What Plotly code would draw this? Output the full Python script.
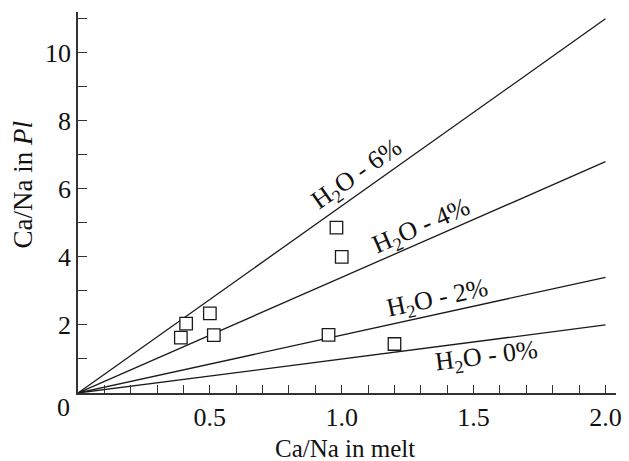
import math
import plotly.graph_objects as go

# Data
melt_x = [0.39, 0.41, 0.50, 0.515, 0.98, 1.00, 0.95, 1.20]
pl_y = [1.63, 2.04, 2.34, 1.70, 4.86, 4.00, 1.71, 1.44]

water_labels = ["H<sub>2</sub>O - 0%", "H<sub>2</sub>O - 2%", "H<sub>2</sub>O - 4%", "H<sub>2</sub>O - 6%"]
line_x = [0.0, 2.0]
line_end_y = [2.0, 3.4, 6.8, 11.0]

x_tickvals = [round(i * 0.1, 1) for i in range(1, 21)]
x_ticktext = ["0.5" if v == 0.5 else "1.0" if v == 1.0 else "1.5" if v == 1.5 else "2.0" if v == 2.0 else "" for v in x_tickvals]
y_tickvals = list(range(1, 12))
y_ticktext = [str(v) if v % 2 == 0 else "" for v in y_tickvals]

FONT = "Liberation Serif, Times New Roman, serif"

fig = go.Figure()
for end in line_end_y:
    fig.add_trace(go.Scatter(x=line_x, y=[0.0, end], mode="lines",
                             line=dict(color="#1a1a1a", width=1.3),
                             showlegend=False, hoverinfo="skip"))
fig.add_trace(go.Scatter(x=melt_x, y=pl_y, mode="markers",
                         marker=dict(symbol="square", size=12.5, color="white",
                                     line=dict(color="#1a1a1a", width=1.3)),
                         showlegend=False))

# label placement (data coords) and rotation following the lines
label_pos = [(1.058, 6.40), (1.302, 4.88), (1.365, 2.76), (1.549, 1.05)]
label_pos = label_pos[::-1]
px_per_x = 266.5
px_per_y = 34.0
for txt, (lx, ly), end in zip(water_labels, label_pos, line_end_y):
    ang = math.degrees(math.atan((end / 2.0) * px_per_y / px_per_x))
    fig.add_annotation(x=lx, y=ly, text=txt, showarrow=False, textangle=-ang,
                       font=dict(family=FONT, size=26, color="#111"),
                       xanchor="center", yanchor="middle")

# shared zero label
fig.add_annotation(xref="paper", yref="paper", x=(63 - 78) / 543.7, y=(393 - 407) / 381,
                   text="0", showarrow=False, font=dict(family=FONT, size=26, color="#111"),
                   xanchor="center", yanchor="middle")
# axis titles
fig.add_annotation(xref="paper", yref="paper", x=(22 - 78) / 543.7, y=(393 - 185) / 381,
                   text="Ca/Na in <i>Pl</i>", textangle=-90, showarrow=False,
                   font=dict(family=FONT, size=27, color="#111"),
                   xanchor="center", yanchor="middle")
fig.add_annotation(xref="paper", yref="paper", x=(348 - 78) / 543.7, y=(393 - 448) / 381,
                   text="Ca/Na in melt", showarrow=False,
                   font=dict(family=FONT, size=25, color="#111"),
                   xanchor="center", yanchor="middle")

fig.update_layout(
    width=629, height=461,
    margin=dict(l=78, r=7, t=12, b=68),
    paper_bgcolor="white", plot_bgcolor="white",
    font=dict(family=FONT, size=26, color="#111"),
)
fig.update_xaxes(range=[0, 2.04], tickvals=x_tickvals, ticktext=x_ticktext,
                 ticks="inside", ticklen=8, tickwidth=1.3, tickcolor="#333",
                 showline=True, linecolor="#333", linewidth=1.5,
                 showgrid=False, zeroline=False, tickfont=dict(size=26, family=FONT))
fig.update_yaxes(range=[0, 11.2], tickvals=y_tickvals, ticktext=y_ticktext,
                 ticks="inside", ticklen=9, tickwidth=1.3, tickcolor="#333",
                 showline=True, linecolor="#333", linewidth=1.5,
                 showgrid=False, zeroline=False, tickfont=dict(size=26, family=FONT))

fig.write_html("out.html")
